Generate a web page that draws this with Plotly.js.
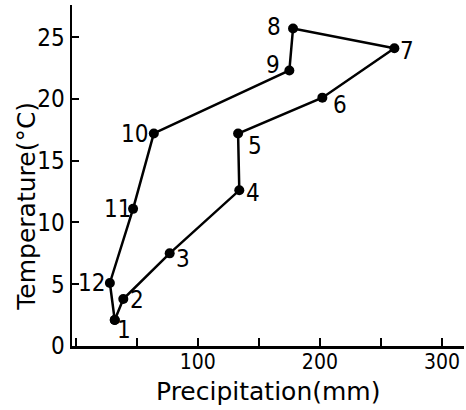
<!DOCTYPE html>
<html><head><meta charset="utf-8">
<script src="https://cdn.plot.ly/plotly-3.0.1.min.js"></script>
<style>html,body{margin:0;padding:0;background:#fff}#chart{width:466px;height:410px}</style>
</head><body><div id="chart"></div>
<script>
// Data (monthly climograph)
const months = ["1","2","3","4","5","6","7","8","9","10","11","12"];
const precipitation = [32, 39, 77, 134, 133, 202, 261, 178, 175, 64, 47, 28];
const temperature = [2.1, 3.8, 7.5, 12.6, 17.2, 20.1, 24.1, 25.7, 22.3, 17.2, 11.1, 5.1];
const xTickVals = [0, 50, 100, 150, 200, 250, 300];
const xTickText = ["", "", "100", "", "200", "", "300"];
const yTickVals = [0, 5, 10, 15, 20, 25];

// label offsets in pixels (style)
const labelDX = [9, 14, 13, 14, 17, 18, 13, -19, -16, -19, -16, -18];
const labelDY = [-10, -1, -6, -3, -13, -7, -3, 1, 5, -1, 0, 0];

const FONT = "DejaVu Sans, sans-serif";
const CFONT = "DejaVu Sans Condensed, DejaVu Sans, sans-serif";

const trace = {
  x: precipitation.concat([precipitation[0]]),
  y: temperature.concat([temperature[0]]),
  mode: "lines+markers",
  line: {color: "#000", width: 2.5},
  marker: {color: "#000", size: 10},
  hoverinfo: "none",
  showlegend: false
};

const annotations = months.map((m, i) => ({
  x: precipitation[i], y: temperature[i], text: m, showarrow: false,
  xshift: labelDX[i], yshift: labelDY[i],
  font: {family: CFONT, size: 24, color: "#000"}
}));
annotations.push({
  xref: "paper", yref: "paper", x: 0.5, y: -0.132, yanchor: "middle",
  text: "Precipitation(mm)", showarrow: false,
  font: {family: FONT, size: 25, color: "#000"}
});
annotations.push({
  xref: "paper", yref: "paper", x: -0.116, y: 0.41, xanchor: "center", yanchor: "middle",
  text: "Temperature(°C)", textangle: -90, showarrow: false,
  font: {family: FONT, size: 25, color: "#000"}
});

const layout = {
  width: 466, height: 410,
  margin: {l: 72, r: 2, t: 5, b: 64},
  paper_bgcolor: "#fff", plot_bgcolor: "#fff",
  xaxis: {
    range: [-3, 318], tickvals: xTickVals, ticktext: xTickText,
    ticks: "inside", ticklen: 8, tickwidth: 2, tickcolor: "#000",
    ticklabelstandoff: -5,
    showline: true, linecolor: "#000", linewidth: 2.5,
    showgrid: false, zeroline: false,
    tickfont: {family: CFONT, size: 21, color: "#000"}
  },
  yaxis: {
    range: [0, 27.6], tickvals: yTickVals,
    ticks: "inside", ticklen: 7, tickwidth: 2, tickcolor: "#000",
    showline: true, linecolor: "#000", linewidth: 2.5,
    showgrid: false, zeroline: false,
    tickfont: {family: CFONT, size: 24, color: "#000"}
  },
  annotations: annotations
};

Plotly.newPlot("chart", [trace], layout, {displayModeBar: false, staticPlot: true});
</script></body></html>
